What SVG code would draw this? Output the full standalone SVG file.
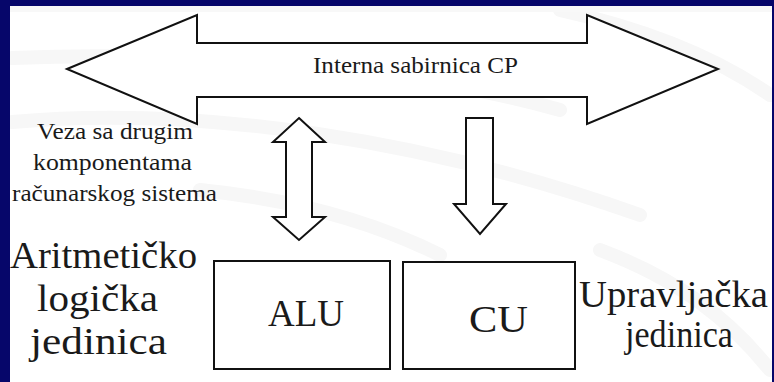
<svg xmlns="http://www.w3.org/2000/svg" width="774" height="382" viewBox="0 0 774 382">
  <style>
    .shape { fill: #ffffff; stroke: #111111; stroke-width: 2; stroke-linejoin: miter; }
    .t { font-family: "Times New Roman", Times, "Liberation Serif", Tinos, "Nimbus Roman", "FreeSerif", "DejaVu Serif", serif; fill: #1a1a1a; }
    .sm { font-size: 23px; }
    .lg { font-size: 38px; }
    .arc { fill: none; stroke: #f7f7f7; stroke-width: 14; stroke-linecap: round; }
  </style>
  <rect x="0" y="0" width="774" height="382" fill="#ffffff"/>
  <g id="background">
    <path class="arc" d="M 12 58 C 200 50, 420 70, 560 110"/>
    <path class="arc" d="M 12 122 C 200 105, 430 140, 640 215"/>
    <path class="arc" d="M 200 190 C 300 200, 380 225, 440 255"/>
    <path class="arc" d="M 560 10 C 650 30, 720 60, 770 95"/>
    <path class="arc" d="M 600 250 C 680 280, 730 320, 770 370"/>
    <rect x="10" y="6" width="762" height="6" fill="#f8f8f8"/>
    <rect x="0" y="0" width="774" height="6" fill="#06066a"/>
    <rect x="0" y="0" width="10" height="382" fill="#06066a"/>
    <rect x="772" y="0" width="2" height="382" fill="#06066a"/>
  </g>
  <g id="bus">
    <polygon class="shape" points="67,69 197,15 197,43 587,43 587,15 718,69 587,124 587,97 197,97 197,124"/>
    <text class="t sm" x="313" y="73" textLength="205" lengthAdjust="spacingAndGlyphs">Interna sabirnica CP</text>
  </g>
  <g id="veza-label">
    <text class="t sm" x="37" y="139" textLength="156" lengthAdjust="spacingAndGlyphs">Veza sa drugim</text>
    <text class="t sm" x="33" y="170" textLength="159" lengthAdjust="spacingAndGlyphs">komponentama</text>
    <text class="t sm" x="12" y="201" textLength="205" lengthAdjust="spacingAndGlyphs">računarskog sistema</text>
  </g>
  <g id="connectors">
    <polygon id="alu-bus" class="shape" points="299,118 325,142 312,142 312,217 325,217 299,240 273,217 286,217 286,142 273,142"/>
    <polygon id="bus-cu" class="shape" points="466,118 493,118 493,204 506,204 480,234 454,204 466,204"/>
  </g>
  <g id="alu">
    <rect class="shape" x="214" y="261" width="176" height="108"/>
    <text class="t lg" x="268" y="326" textLength="76" lengthAdjust="spacingAndGlyphs">ALU</text>
  </g>
  <g id="cu">
    <rect class="shape" x="403" y="262" width="172" height="107"/>
    <text class="t lg" x="469" y="332" textLength="59" lengthAdjust="spacingAndGlyphs">CU</text>
  </g>
  <g id="alu-label">
    <text class="t lg" x="10" y="268" textLength="187" lengthAdjust="spacingAndGlyphs">Aritmetičko</text>
    <text class="t lg" x="37" y="311" textLength="121" lengthAdjust="spacingAndGlyphs">logička</text>
    <text class="t lg" x="30" y="354" textLength="137" lengthAdjust="spacingAndGlyphs">jedinica</text>
  </g>
  <g id="cu-label">
    <text class="t lg" x="579" y="307" textLength="189" lengthAdjust="spacingAndGlyphs">Upravljačka</text>
    <text class="t lg" x="625" y="347" textLength="108" lengthAdjust="spacingAndGlyphs">jedinica</text>
  </g>
</svg>
